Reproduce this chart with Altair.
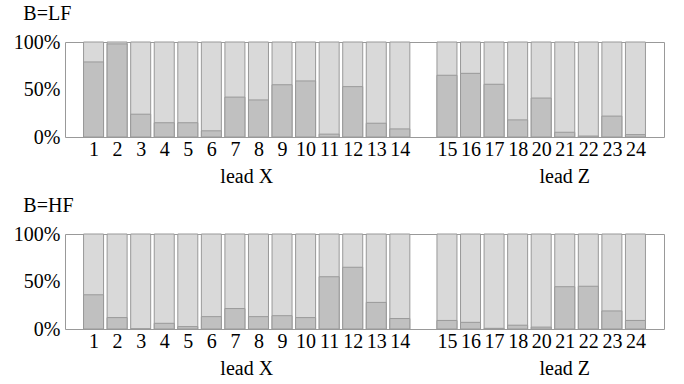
import altair as alt
import pandas as pd

# Data
leads = [1, 2, 3, 4, 5, 6, 7, 8, 9, 10, 11, 12, 13, 14, 15, 16, 17, 18, 20, 21, 22, 23, 24]
slots = [1, 2, 3, 4, 5, 6, 7, 8, 9, 10, 11, 12, 13, 14, 16, 17, 18, 19, 20, 21, 22, 23, 24]
lf_share = [79, 98, 24, 15, 15, 6.5, 42, 39, 55, 59, 3, 53, 14.5, 8.5,
            65, 67, 55.5, 18, 41, 5, 1, 22, 2.5]
hf_share = [36, 12, 0, 6, 2.5, 13, 21.5, 13, 14, 12, 55, 65, 28, 11,
            9, 7, 0.7, 4, 2, 44.5, 45, 19, 9]
groups = ["lead X", "lead Z"]
group_centers = [7.5, 21.0]

FONT = "Liberation Serif"
W, H = 599, 95

label_expr = "[" + ",".join(f"'{l}'" for l in leads) + "][indexof([" + ",".join(str(s) for s in slots) + "], datum.value)]"

x_axis = alt.Axis(values=slots, labelExpr=label_expr, title=None, ticks=False,
                  domain=False, grid=False, labelFont=FONT, labelFontSize=20,
                  labelPadding=2, labelOverlap=False, labelColor="black",
                  labelFlush=False, labelSeparation=0)
y_axis = alt.Axis(values=[0, 0.5, 1], format="%", title=None, ticks=False,
                  domain=False, grid=False, labelFont=FONT, labelFontSize=20,
                  labelPadding=5, labelColor="black", labelOverlap=False)


def row(name, vals):
    df = pd.DataFrame({"slot": slots, "lead": leads,
                       "share": [v / 100 for v in vals], "full": [1.0] * len(slots)})
    gdf = pd.DataFrame({"group": groups, "center": group_centers})
    xs = alt.Scale(domain=[0, 25], nice=False, zero=False)
    ys = alt.Scale(domain=[0, 1], nice=False)
    light = alt.Chart(df).mark_bar(size=20, color="#d9d9d9", stroke="#999999",
                                   strokeWidth=1).encode(
        x=alt.X("slot:Q", scale=xs, axis=x_axis),
        y=alt.Y("full:Q", scale=ys, axis=y_axis))
    dark = alt.Chart(df).mark_bar(size=20, color="#c0c0c0", stroke="#999999",
                                  strokeWidth=1).encode(
        x=alt.X("slot:Q", scale=xs, axis=x_axis),
        y=alt.Y("share:Q", scale=ys, axis=y_axis))
    text = alt.Chart(gdf).mark_text(font=FONT, fontSize=20, baseline="alphabetic",
                                    color="black").encode(
        x=alt.X("center:Q", scale=xs, axis=x_axis), y=alt.value(H + 46), text="group:N")
    return alt.layer(light, dark, text).properties(
        width=W, height=H,
        title=alt.TitleParams(name, anchor="start", font=FONT, fontSize=20,
                              fontWeight="normal", color="black", offset=8, dx=10))


chart = alt.vconcat(row("B=LF", lf_share), row("B=HF", hf_share), spacing=7).properties(
    padding={"left": 12, "top": 3, "right": 5, "bottom": 2}
).configure(font=FONT).configure_view(stroke="#999999", strokeWidth=1).configure_axis(
    labelOverlap=False, labelFont=FONT, labelFontSize=20)

chart.save("out.html", embed_options={"renderer": "svg", "actions": False})
